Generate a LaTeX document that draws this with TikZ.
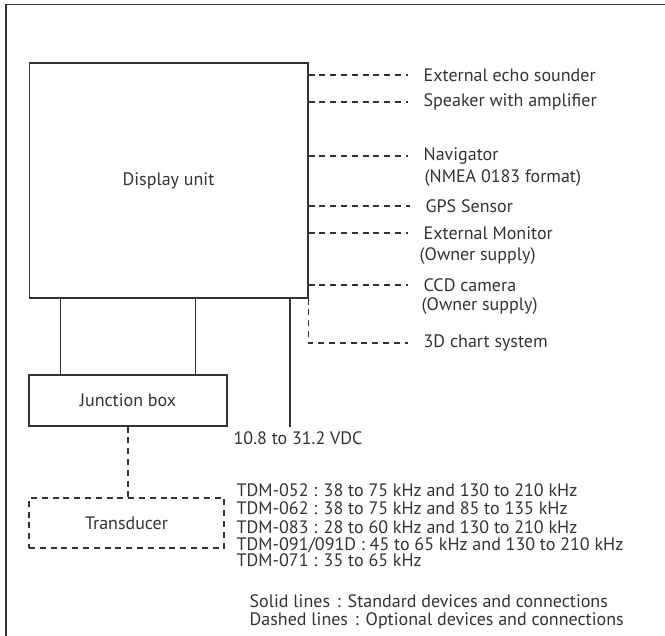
\documentclass[tikz,border=0pt]{standalone}
\usepackage{fontspec}
\setmainfont{PT Sans}
\newcommand{\wcolon}{\hspace{0.38em}:\hspace{0.38em}}
\usetikzlibrary{positioning}

\begin{document}
\begin{tikzpicture}[x=0.75pt,y=-0.75pt, line width=1pt, color=black!80,
    font=\fontsize{13.5}{16}\selectfont,
    unit/.style={draw, inner sep=0},
    opt/.style={dash pattern=on 4.5pt off 3.6pt},
    device/.style={anchor=west, inner xsep=0, inner ysep=0.5pt},
    link/.style={anchor=west, inner xsep=11.25pt, inner ysep=0.5pt}]
    \useasboundingbox (0,0) rectangle (665,636);

    % Frame (open at right and bottom)
    \draw (6,636) -- (6,4.5) -- (665,4.5);

    % Units
    \node[unit, minimum width=209pt, minimum height=176.25pt] (disp) at (168.5,180.5) {Display unit};
    \node[unit, minimum width=148.5pt, minimum height=38.25pt] (jb) at (128,400.5) {Junction box};
    \node[unit, opt, minimum width=146.25pt, minimum height=37.5pt] (td) at (126.5,523) {Transducer};

    % Optional devices on the right
    \node[link] (echo) at (408,75) {External echo sounder};
    \node[link] (spk) at (408,102) {Speaker with amplifier};
    \node[link] (nav) at (408,156) {Navigator};
    \node[device] (nmea) at (424,178) {(NMEA 0183 format)};
    \node[link] (gps) at (410,206) {GPS Sensor};
    \node[link] (mon) at (408,233) {External Monitor};
    \node[device] (own1) at (419,256) {(Owner supply)};
    \node[link] (ccd) at (408,285) {CCD camera};
    \node[device] (own2) at (421,306) {(Owner supply)};
    \node[link] (chart) at (408,343) {3D chart system};

    \foreach \dev in {echo,spk,nav,gps,mon,ccd}
        \draw[opt] (disp.east |- \dev.west) -- (\dev.west);
    \draw[opt] (disp.south east) -- (disp.south east |- chart.west) -- (chart.west);

    % Standard connections
    \draw ([xshift=24pt]jb.north west) -- ([xshift=24pt]jb.north west |- disp.south);
    \draw ([xshift=-24pt]jb.north east) -- ([xshift=-24pt]jb.north east |- disp.south);
    \coordinate (pwr) at (290,427);
    \draw (disp.south -| pwr) -- (pwr);
    \node[device] (vdc) at (233,438) {10.8 to 31.2 VDC};

    % Transducer link
    \draw[opt] (jb.south) -- (jb.south |- td.north);

    % Transducer models
    \foreach \i/\y/\t in {1/490/{TDM-052 : 38 to 75 kHz and 130 to 210 kHz},
                          2/508/{TDM-062 : 38 to 75 kHz and 85 to 135 kHz},
                          3/527/{TDM-083 : 28 to 60 kHz and 130 to 210 kHz},
                          4/545/{TDM-091/091D : 45 to 65 kHz and 130 to 210 kHz},
                          5/560/{TDM-071 : 35 to 65 kHz}}
        \node[device] (tdm\i) at (236,\y) {\t};

    % Legend
    \node[device] (solid) at (249,601) {Solid lines\wcolon Standard devices and connections};
    \node[device] (dash) at (249,620.5) {Dashed lines\wcolon Optional devices and connections};
\end{tikzpicture}
\end{document}
